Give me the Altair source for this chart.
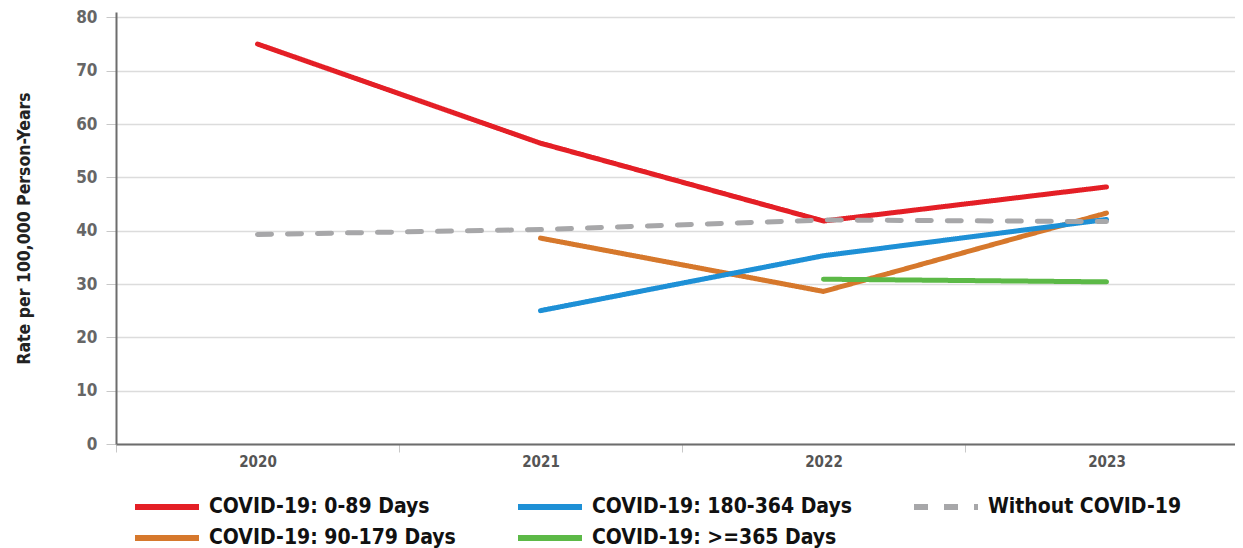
import altair as alt
import pandas as pd

years = [2020, 2021, 2022, 2023]
series_names = [
    "COVID-19: 0-89 Days",
    "COVID-19: 180-364 Days",
    "Without COVID-19",
    "COVID-19: 90-179 Days",
    "COVID-19: >=365 Days",
]
colors = ["#e41f26", "#1e90d6", "#a7a7a9", "#d6782c", "#5cb947"]
dashes = [[1, 0], [1, 0], [14, 16], [1, 0], [1, 0]]

rate_0_89 = [75.0, 56.4, 41.8, 48.2]
rate_90_179 = [None, 38.6, 28.6, 43.3]
rate_180_364 = [None, 25.0, 35.3, 42.1]
rate_365 = [None, None, 30.9, 30.4]
rate_without = [39.3, 40.2, 42.0, 41.7]

rows = []
for name, vals in [
    ("COVID-19: 0-89 Days", rate_0_89),
    ("COVID-19: 90-179 Days", rate_90_179),
    ("COVID-19: 180-364 Days", rate_180_364),
    ("COVID-19: >=365 Days", rate_365),
    ("Without COVID-19", rate_without),
]:
    for y, v in zip(years, vals):
        if v is not None:
            rows.append({"Year": str(y), "Rate": v, "Series": name})
df = pd.DataFrame(rows)

FONT = "DejaVu Sans Condensed, Liberation Sans Narrow, Roboto, sans-serif"

chart = alt.Chart(df).mark_line(strokeWidth=5, strokeCap="round").encode(
    x=alt.X(
        "Year:O",
        sort=[str(y) for y in years],
        bandPosition=0.5,
        scale=alt.Scale(type="band", paddingInner=0, paddingOuter=0, range=[0, 1132]),
        axis=alt.Axis(
            title=None,
            grid=False,
            tickBand="extent",
            labelAngle=0,
            domainColor="#6d6d6d",
            domainWidth=2,
            tickColor="#c8c8c8",
            tickWidth=1,
            tickSize=8,
            labelOverlap=False,
            labelFont=FONT,
            labelFontSize=15,
            labelFontWeight="bold",
            labelColor="#555555",
            labelPadding=2,
        ),
    ),
    y=alt.Y(
        "Rate:Q",
        scale=alt.Scale(domain=[0, 81], nice=False),
        axis=alt.Axis(
            values=[0, 10, 20, 30, 40, 50, 60, 70, 80],
            title="Rate per 100,000 Person-Years",
            titleFont=FONT,
            titleFontSize=17.5,
            titleFontWeight="bold",
            titleColor="#222222",
            titlePadding=42,
            grid=True,
            gridColor="#dcdcdc",
            gridWidth=1.5,
            domainColor="#6d6d6d",
            domainWidth=2,
            tickColor="#c8c8c8",
            tickSize=10,
            labelFont=FONT,
            labelFontSize=17,
            labelFontWeight="bold",
            labelColor="#666666",
            labelPadding=9,
        ),
    ),
    color=alt.Color(
        "Series:N",
        scale=alt.Scale(domain=series_names, range=colors),
        legend=alt.Legend(
            title=None,
            orient="none",
            legendX=33,
            legendY=477,
            direction="horizontal",
            columns=3,
            symbolType="M-2.133,0H2.133",
            symbolSize=900,
            symbolStrokeWidth=6,
            labelFont=FONT,
            labelFontSize=21,
            labelFontWeight="bold",
            labelColor="#111111",
            labelOffset=24,
            columnPadding=50,
            rowPadding=1,
            labelLimit=400,
        ),
    ),
    strokeDash=alt.StrokeDash(
        "Series:N",
        scale=alt.Scale(domain=series_names, range=dashes),
        legend=None,
    ),
).properties(
    width=1119,
    height=432,
    padding={"left": 108, "top": 4, "right": 0, "bottom": 104},
    autosize=alt.AutoSizeParams(type="none"),
).configure_view(stroke=None)

chart.save("out.html", embed_options={"renderer": "svg", "actions": False})
